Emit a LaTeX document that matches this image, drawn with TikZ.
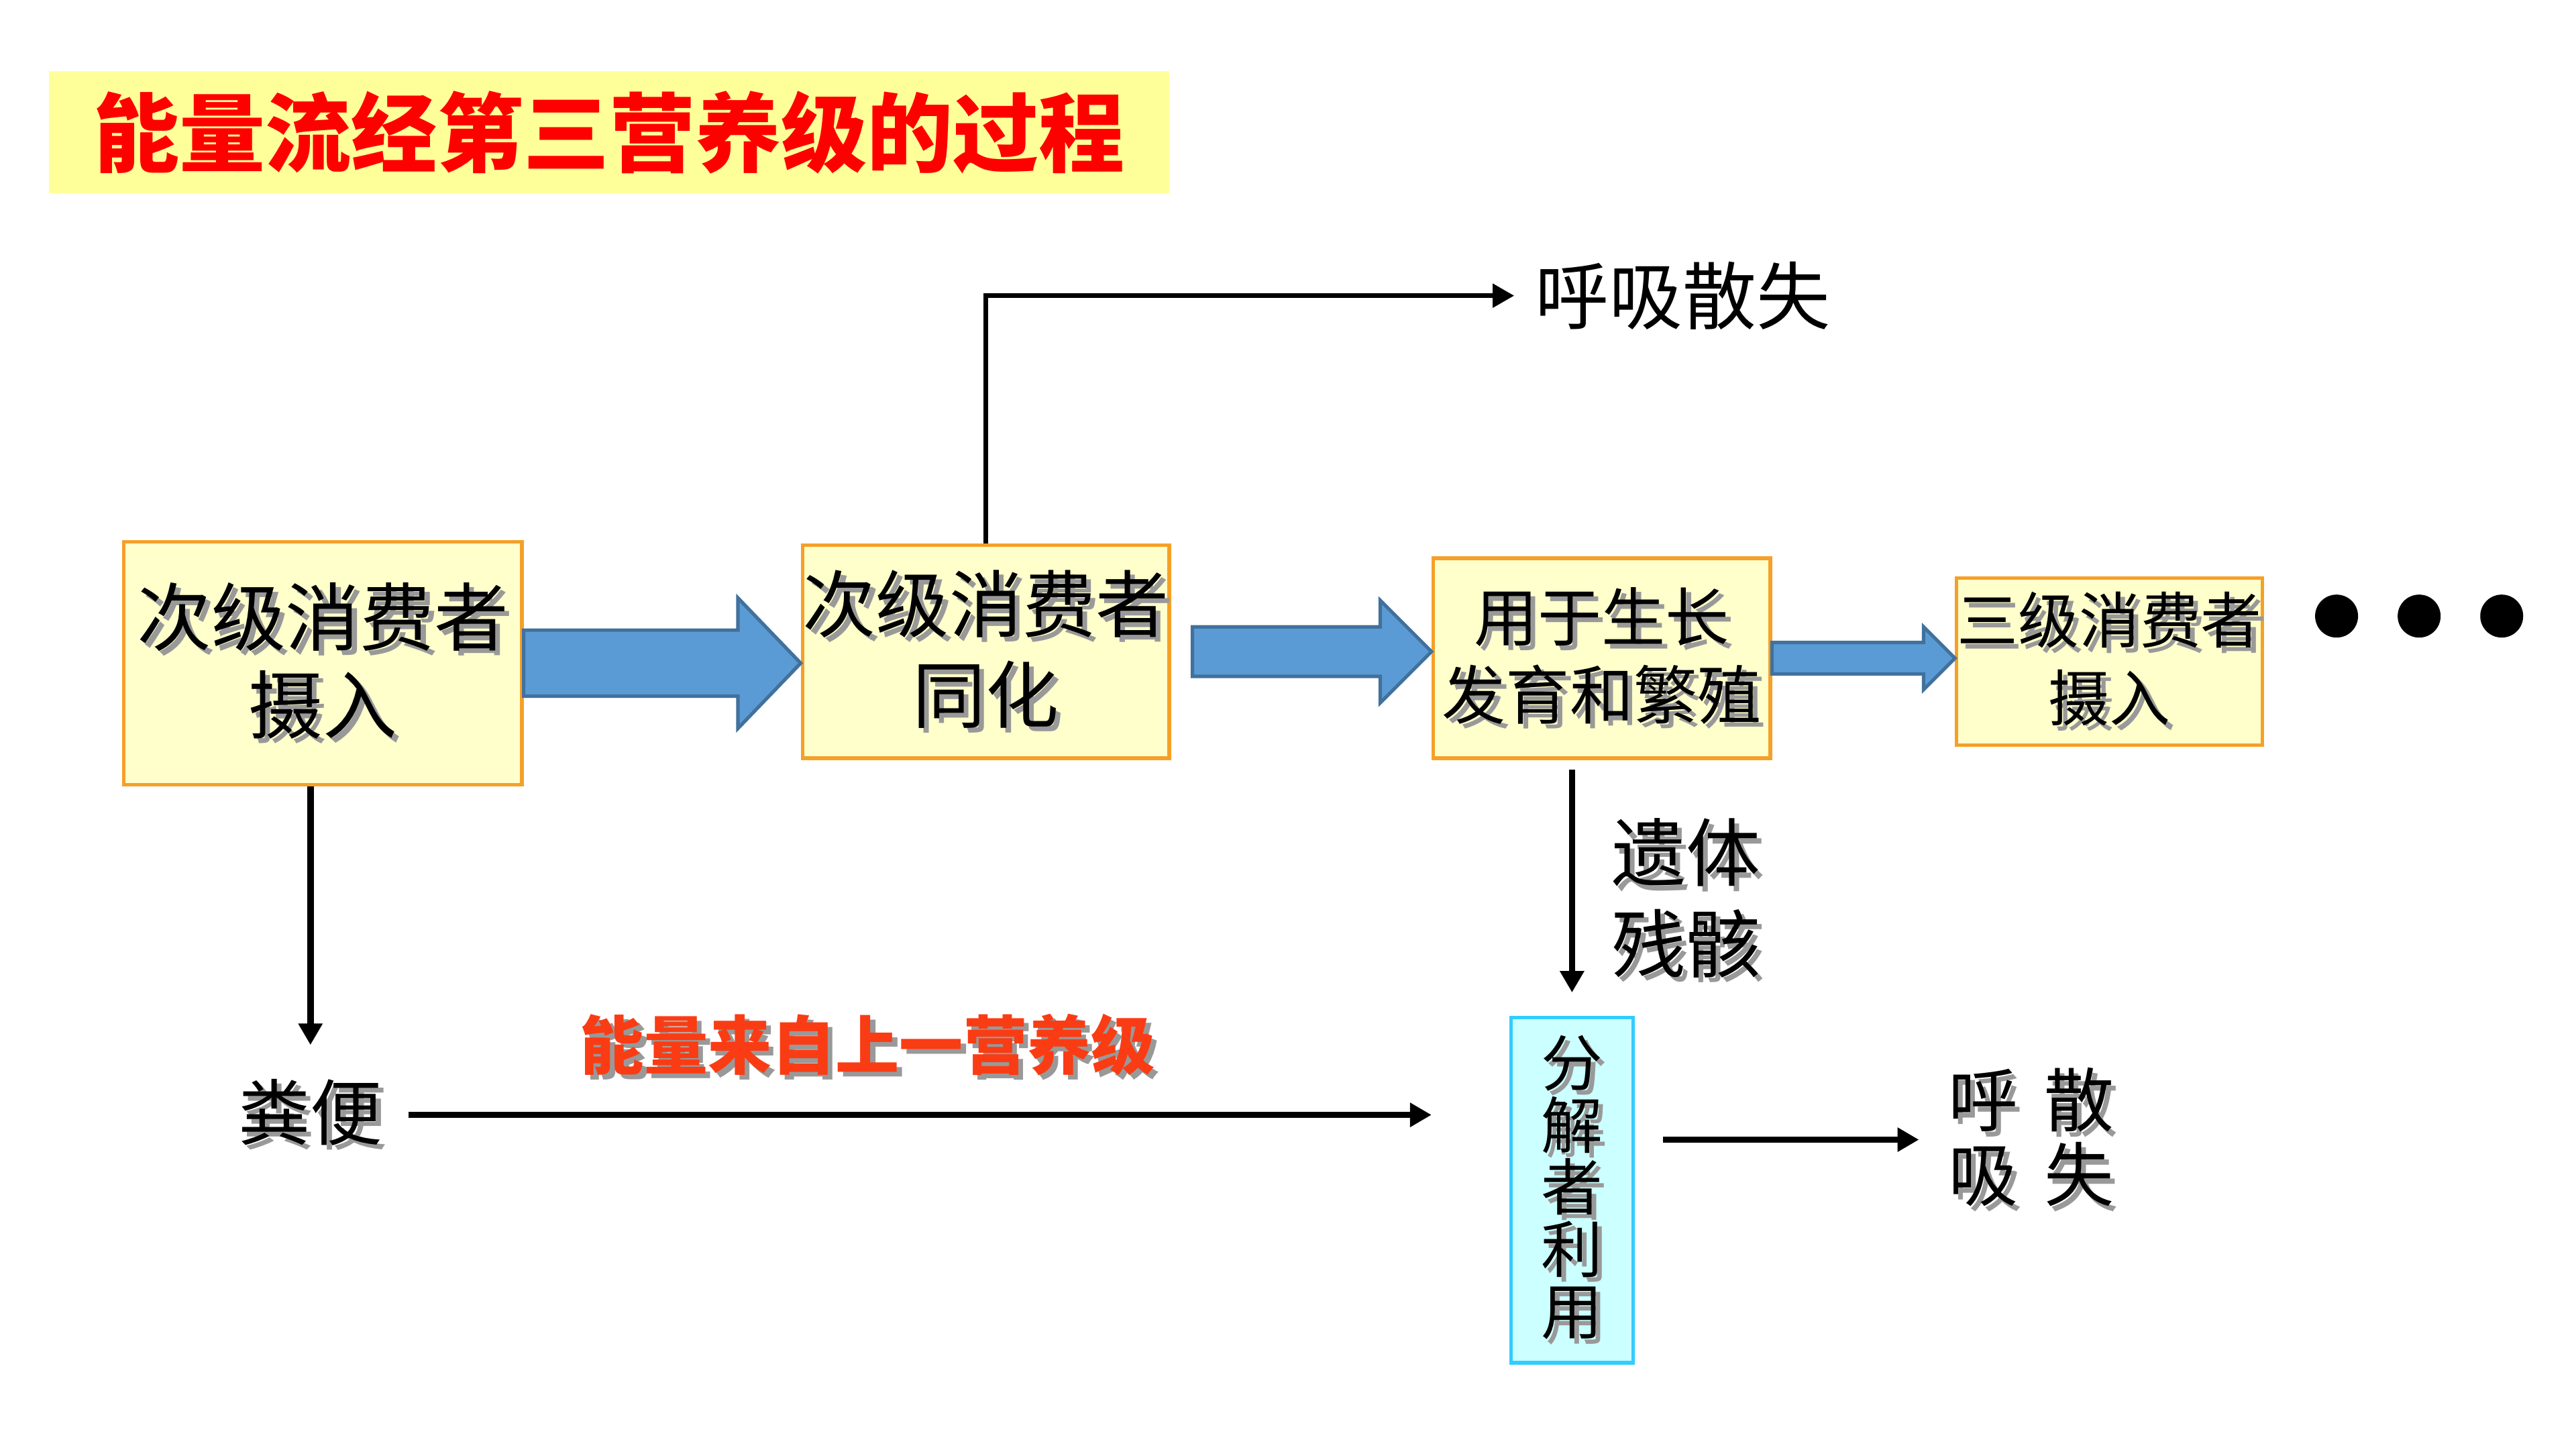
\documentclass[tikz,border=0pt]{standalone}
\usepackage{fontspec}
\setmainfont{Noto Sans CJK SC}
\usetikzlibrary{calc,arrows.meta}

\definecolor{titlebg}{HTML}{FFFF99}
\definecolor{titlered}{HTML}{FF0000}
\definecolor{labelred}{RGB}{250,60,20}
\definecolor{boxfill}{HTML}{FFFFCC}
\definecolor{boxline}{RGB}{245,160,40}
\definecolor{bluefill}{HTML}{5B9BD5}
\definecolor{blueline}{HTML}{41719C}
\definecolor{cyanfill}{HTML}{CCFFFF}
\definecolor{cyanline}{HTML}{33CCFF}

% text with a soft grey shadow
\newcommand\shd[1]{\makebox[0pt][l]{\hspace{0.3mm}\raisebox{-0.3mm}{\textcolor{black!40}{#1}}}#1}

% wide blue arrow: tail, target, half shaft, half head, head length
\newcommand\bigarrow[5]{%
  \coordinate (tl) at (#1);
  \coordinate (tp) at (tl -| #2);
  \draw[flow] ($(tl)+(0,-#3)$) -- ($(tp)+(-#5,-#3)$) -- ($(tp)+(-#5,-#4)$) -- (tp)
    -- ($(tp)+(-#5,#4)$) -- ($(tp)+(-#5,#3)$) -- ($(tl)+(0,#3)$) -- cycle;}

\tikzset{
  box/.style={draw=boxline, fill=boxfill, line width=0.6pt, inner sep=0pt, align=center},
  lbl/.style={inner sep=0pt, align=center},
  flow/.style={draw=blueline, fill=bluefill, line width=0.6pt},
  thinarrow/.style={line width=1.1pt, -{Triangle[length=1.3mm,width=1.4mm]}},
  dot/.style={circle, fill=black, minimum size=2.6mm, inner sep=0pt}
}

\begin{document}
\begin{tikzpicture}[x=0.01cm, y=-0.01cm]
    \path[fill=white] (0,0) rectangle (1560,877.5);

    \node (title) [fill=titlebg, text=titlered, minimum width=6.78cm, minimum height=0.74cm,
      font=\fontsize{14.8pt}{16pt}\selectfont\bfseries] at (369,80) {能量流经第三营养级的过程};

    \node (1) [box, minimum width=2.41cm, minimum height=1.47cm,
      font=\fontsize{12.8pt}{15.1pt}\selectfont] at (195.5,401.5) {\shd{次级消费者}\\\shd{摄入}};
    \node (2) [box, minimum width=2.22cm, minimum height=1.29cm,
      font=\fontsize{12.6pt}{15.6pt}\selectfont] at (597,394.5) {\shd{次级消费者}\\\shd{同化}};
    \node (3) [box, minimum width=2.04cm, minimum height=1.21cm,
      font=\fontsize{11pt}{13.4pt}\selectfont] at (970,398.5) {\shd{用于生长}\\\shd{发育和繁殖}};
    \node (4) [box, minimum width=1.85cm, minimum height=1.01cm,
      font=\fontsize{10.5pt}{13.4pt}\selectfont] at (1277.5,400.5) {\shd{三级消费者}\\\shd{摄入}};
    \node (5) [box, draw=cyanline, fill=cyanfill, minimum width=0.74cm, minimum height=2.09cm,
      font=\fontsize{10.6pt}{10.7pt}\selectfont] at (952,720.5) {\shd{分}\\\shd{解}\\\shd{者}\\\shd{利}\\\shd{用}};

    \node (6) [lbl, font=\fontsize{12.4pt}{14pt}\selectfont] at (188,675) {\shd{粪便}};
    \node (7) [lbl, font=\fontsize{12.7pt}{14pt}\selectfont] at (1019,179) {呼吸散失};
    \node (8) [lbl, font=\fontsize{12pt}{12.8pt}\selectfont] at (1230,690)
      {\shd{呼\hspace{1.6mm}散}\\\shd{吸\hspace{1.6mm}失}};

    \foreach \i in {1,2,3}
      \node (d\i) [dot] at (1365+50*\i,373) {};

    \bigarrow{1.east}{2.west}{20}{39.5}{38}
    \bigarrow{[xshift=1.3mm]2.east}{3.west}{15}{31}{31}
    \bigarrow{3.east}{4.west}{9.5}{19}{19}

    \draw[thinarrow, line width=0.8pt, shorten >=1.2mm] (2.north) |- (7.west);

    \path[thinarrow]
    (6.north |- 1.south) edge[shorten >=2mm] (6.north)
    (6.east) edge[shorten <=1.5mm, shorten >=4.7mm]
      node (src) [lbl, pos=0.43, above=1.9mm, text=labelred, font=\fontsize{11pt}{12pt}\selectfont\bfseries]
      {\shd{能量来自上一营养级}} (6.east -| 5.west)
    (5.north |- 3.south) edge[shorten <=0.6mm, shorten >=1.4mm]
      node (rem) [lbl, pos=0.55, right=2.2mm, font=\fontsize{12.8pt}{15.6pt}\selectfont]
      {\shd{遗体}\\\shd{残骸}} (5.north)
    (8.west -| 5.east) edge[shorten <=1.7mm, shorten >=1.7mm] (8.west);
\end{tikzpicture}
\end{document}
